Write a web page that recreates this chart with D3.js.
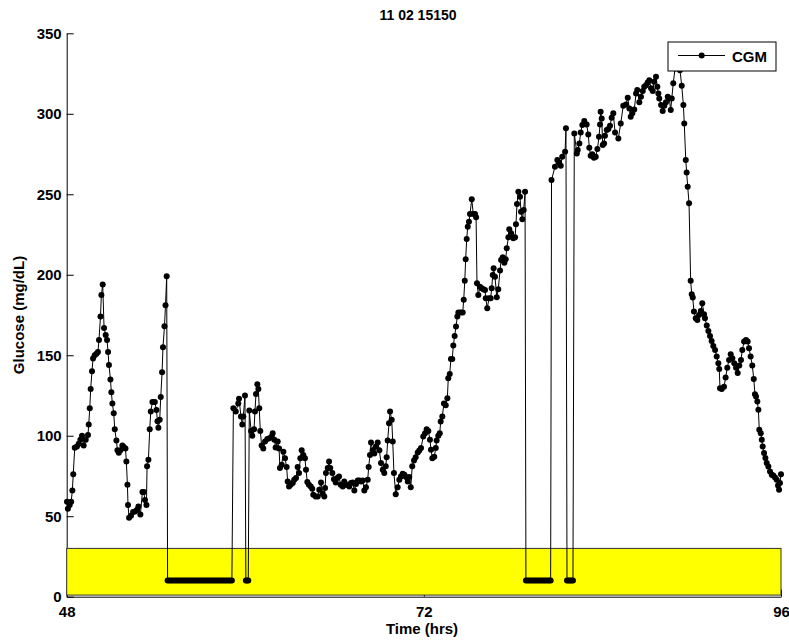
<!DOCTYPE html>
<html lang="en">
<head>
  <meta charset="utf-8" />
  <style>
    body { margin: 0; background: #fff; }
    text { font-family: "Liberation Sans", Arial, sans-serif; font-weight: bold; }
  </style>
</head>
<body>
<div id="container"></div>
<script src="https://cdn.jsdelivr.net/npm/d3@7"></script>
<script>

const title = '11 02 15150';
const xTicks = [48, 72, 96];
const yTicks = [0, 50, 100, 150, 200, 250, 300, 350];
const lowBand = [1, 30]; // yellow band, mg/dL

// CGM readings: [hour, mg/dL]; 10 = sensor gap marker
const cgm = [
  [48.02, 59], [48.08, 54.6], [48.2, 57], [48.3, 59], [48.38, 66], [48.44, 76], [48.54, 92.5], [48.69, 93.3],
  [48.81, 95], [48.92, 97.5], [49.03, 100], [49.14, 94], [49.28, 97.5], [49.43, 100.5], [49.48, 107], [49.55, 117],
  [49.61, 129], [49.7, 140], [49.77, 148], [49.88, 150], [50.0, 151], [50.1, 152], [50.17, 159.5], [50.27, 174],
  [50.33, 187.5], [50.42, 194], [50.51, 167], [50.62, 162.6], [50.71, 159.5], [50.78, 152], [50.84, 144], [50.94, 135],
  [51.0, 127], [51.07, 120], [51.16, 114], [51.23, 104], [51.34, 97], [51.41, 91], [51.5, 89.4], [51.61, 91],
  [51.74, 94], [51.83, 93], [51.95, 92], [52.01, 84], [52.08, 69.5], [52.12, 57], [52.19, 49], [52.32, 50.3],
  [52.46, 52.6], [52.59, 53], [52.73, 54], [52.82, 56], [52.95, 51], [53.09, 65], [53.18, 65], [53.26, 60],
  [53.36, 57], [53.4, 81], [53.49, 85], [53.58, 104], [53.65, 115], [53.76, 121], [53.92, 121], [54.03, 116],
  [54.1, 109], [54.16, 105], [54.25, 110], [54.32, 124], [54.41, 139.5], [54.47, 155], [54.57, 168], [54.64, 181],
  [54.72, 199],
  [54.78, 10], [54.9, 10], [55.02, 10], [55.14, 10], [55.26, 10], [55.38, 10], [55.5, 10], [55.62, 10],
  [55.74, 10], [55.86, 10], [55.98, 10], [56.1, 10], [56.22, 10], [56.34, 10], [56.46, 10], [56.58, 10],
  [56.7, 10], [56.82, 10], [56.94, 10], [57.06, 10], [57.18, 10], [57.3, 10], [57.42, 10], [57.54, 10],
  [57.66, 10], [57.78, 10], [57.9, 10], [58.02, 10], [58.14, 10], [58.26, 10], [58.38, 10], [58.5, 10],
  [58.62, 10], [58.74, 10], [58.86, 10], [58.98, 10], [59.1, 10],
  [59.2, 117], [59.36, 115], [59.53, 120], [59.58, 123], [59.71, 112], [59.8, 107], [59.87, 112], [59.98, 125],
  [60.04, 10], [60.12, 10], [60.2, 10],
  [60.27, 115.6], [60.39, 103], [60.47, 100], [60.59, 104], [60.65, 115], [60.72, 126], [60.81, 132], [60.88, 129],
  [60.94, 117], [61.01, 103], [61.1, 94], [61.21, 92], [61.33, 96.4], [61.48, 98], [61.61, 98.5], [61.78, 99.5],
  [61.84, 101.6], [61.95, 97.5], [62.04, 92.7], [62.18, 96.4], [62.27, 92], [62.33, 80], [62.45, 82], [62.56, 90],
  [62.67, 86], [62.78, 80.5], [62.85, 71.6], [62.94, 68.5], [63.05, 69.5], [63.19, 70.6], [63.29, 72.6], [63.41, 73.7],
  [63.52, 80.5], [63.61, 76.8], [63.7, 86], [63.79, 91], [63.9, 88], [64.01, 86], [64.08, 78.8], [64.17, 71.2],
  [64.28, 69.5], [64.4, 68.5], [64.5, 67], [64.57, 63.3], [64.73, 62.3], [64.87, 62.3], [64.97, 66.4], [65.09, 71],
  [65.2, 64], [65.31, 62.3], [65.36, 67.5], [65.42, 76.8], [65.54, 80], [65.63, 84], [65.71, 80], [65.85, 76.8],
  [65.96, 73], [66.08, 71], [66.18, 73.7], [66.3, 74.7], [66.41, 69.5], [66.55, 68.5], [66.65, 71.6], [66.77, 69.5],
  [66.88, 69.5], [66.99, 68.5], [67.1, 70.6], [67.22, 71], [67.33, 66], [67.44, 70], [67.56, 72.2], [67.66, 72.2],
  [67.78, 71.6], [67.89, 72.2], [68.0, 66], [68.11, 68], [68.23, 72.6], [68.29, 80.5], [68.38, 88], [68.45, 95.8],
  [68.56, 91], [68.67, 89], [68.78, 93.3], [68.9, 95.8], [69.01, 91], [69.12, 83], [69.24, 78.8], [69.34, 76.8],
  [69.44, 81], [69.5, 86.7], [69.57, 97], [69.66, 107.8], [69.73, 115], [69.84, 110], [69.91, 96.4], [69.99, 76.8],
  [70.11, 63.7], [70.24, 68], [70.35, 72.6], [70.46, 74.7], [70.58, 76.4], [70.69, 75.7], [70.8, 74.3], [70.92, 71.6],
  [71.02, 74.3], [71.12, 68], [71.22, 81], [71.34, 84.6], [71.45, 86.7], [71.59, 89.6], [71.69, 90.8], [71.81, 92.3],
  [71.96, 99.5], [72.08, 101.6], [72.19, 104], [72.3, 103], [72.41, 97.5], [72.48, 91.3], [72.57, 86], [72.7, 87],
  [72.8, 92.3], [72.86, 97], [72.97, 100], [73.07, 101.6], [73.13, 108.8], [73.24, 112], [73.35, 120], [73.47, 119],
  [73.58, 123.3], [73.64, 135.7], [73.74, 138.4], [73.82, 147.7], [73.91, 147.7], [73.98, 156], [74.07, 162], [74.16, 167.8],
  [74.25, 174], [74.32, 176.5], [74.48, 176.5], [74.61, 176.5], [74.68, 184.4], [74.75, 196.3], [74.81, 209.6], [74.88, 222.2],
  [74.95, 229.9], [75.03, 233], [75.1, 237.7], [75.22, 246.9], [75.32, 237.7], [75.44, 237.7], [75.51, 235.7], [75.57, 194.7],
  [75.66, 187.5], [75.77, 192.6], [75.89, 191.6], [76.0, 191], [76.11, 190.6], [76.16, 185.4], [76.26, 179.2], [76.38, 185.4],
  [76.49, 185.4], [76.56, 191.6], [76.63, 199.9], [76.69, 204], [76.78, 198.8], [76.9, 186], [77.0, 191], [77.12, 202.6],
  [77.19, 209.2], [77.3, 210.9], [77.41, 207.5], [77.5, 209.6], [77.57, 216.5], [77.68, 223.3], [77.74, 228.3], [77.86, 225.8],
  [78.01, 222.7], [78.13, 223.3], [78.19, 231.4], [78.26, 244], [78.35, 251.6], [78.46, 248.5], [78.53, 239.2], [78.62, 234.5],
  [78.71, 240.2], [78.8, 251.6],
  [78.86, 10], [78.98, 10], [79.1, 10], [79.22, 10], [79.34, 10], [79.46, 10], [79.58, 10], [79.7, 10],
  [79.82, 10], [79.94, 10], [80.06, 10], [80.18, 10], [80.3, 10], [80.42, 10], [80.52, 10],
  [80.58, 258.8], [80.81, 267.1], [80.97, 271.3], [81.08, 269.8], [81.2, 267.7], [81.3, 273.3], [81.49, 276.4], [81.55, 291],
  [81.62, 10], [81.72, 10], [81.82, 10], [81.92, 10], [82.02, 10],
  [82.11, 287.8], [82.28, 275.4], [82.34, 277.5], [82.45, 281.6], [82.54, 288.4], [82.65, 293], [82.78, 295.5], [82.94, 293.4],
  [83.05, 287.2], [83.12, 278.9], [83.21, 273.9], [83.32, 274.8], [83.43, 272.7], [83.55, 273.3], [83.66, 278.1], [83.77, 285.7],
  [83.84, 293.4], [83.88, 301.2], [83.95, 297.1], [84.02, 280.6], [84.11, 281.6], [84.17, 286.3], [84.29, 289.9], [84.4, 290.5],
  [84.51, 292.6], [84.62, 297.5], [84.73, 300.3], [84.85, 288.4], [85.07, 284.7], [85.23, 294], [85.4, 305], [85.58, 305.8],
  [85.7, 309.9], [85.81, 303.3], [85.9, 298.1], [86.01, 300.3], [86.14, 302.7], [86.26, 312.6], [86.34, 314.7], [86.48, 307.1],
  [86.59, 310.6], [86.71, 314.1], [86.81, 316.8], [86.93, 317.8], [87.04, 319.5], [87.15, 320.9], [87.27, 315.8], [87.38, 314.1],
  [87.47, 319.9], [87.6, 323], [87.69, 316.8], [87.76, 312.6], [87.82, 309.5], [87.94, 305.4], [88.05, 301.7], [88.16, 305],
  [88.27, 307.1], [88.39, 310.6], [88.49, 309.5], [88.59, 302.3], [88.66, 309.5], [88.76, 318.9], [88.88, 328.2], [89.0, 329],
  [89.21, 327.1], [89.33, 317.4], [89.44, 305.4], [89.5, 294], [89.6, 271.3], [89.66, 263.6], [89.73, 254.7], [89.82, 244.4],
  [89.93, 196.2], [90.0, 187.9], [90.07, 185.8], [90.15, 177.1], [90.27, 173], [90.38, 171.9], [90.49, 175], [90.61, 177.5],
  [90.71, 182.3], [90.83, 175.5], [90.89, 173], [91.01, 168.4], [91.12, 165.1], [91.23, 162], [91.34, 158.9], [91.45, 155.8],
  [91.57, 153.3], [91.68, 149.2], [91.79, 145.1], [91.85, 141.5], [91.9, 129.5], [92.02, 129.1], [92.17, 130.5], [92.28, 136.1],
  [92.39, 142.3], [92.51, 147.1], [92.62, 150.6], [92.73, 148.2], [92.86, 145.1], [92.98, 142.3], [93.09, 138.9], [93.2, 143.6],
  [93.31, 147.1], [93.4, 153.3], [93.52, 158.5], [93.65, 159.5], [93.76, 158.5], [93.85, 154.4], [93.96, 149.2], [94.07, 143.6],
  [94.17, 135.3], [94.25, 125.8], [94.32, 124.3], [94.41, 121.2], [94.48, 116.1], [94.54, 103.7], [94.64, 101.6], [94.71, 97.5],
  [94.77, 93.3], [94.86, 89.2], [94.95, 86.1], [95.04, 83], [95.15, 80.9], [95.26, 77.8], [95.38, 75.7], [95.48, 75.3],
  [95.6, 74.1], [95.71, 72.6], [95.8, 69.1], [95.87, 66.4], [95.93, 70.6], [96.0, 76]
];

const margin = { top: 33.3, right: 8, bottom: 44.3, left: 66.7 };
const W = 789, H = 641;
const width = W - margin.left - margin.right;
const height = H - margin.top - margin.bottom;

const svg = d3.select('#container')
  .append('svg')
  .attr('width', W)
  .attr('height', H);

const g = svg.append('g')
  .attr('transform', `translate(${margin.left}, ${margin.top})`);

const x = d3.scaleLinear().domain([48, 96]).range([0, width]);
const y = d3.scaleLinear().domain([0, 350]).range([height, 0]);

// axes, ticks pointing inward
g.append('g')
  .attr('class', 'y-axis')
  .call(d3.axisLeft(y).tickValues(yTicks).tickSizeInner(-7).tickSizeOuter(0).tickPadding(5))
  .call(a => a.selectAll('text').attr('font-size', 15).attr('fill', '#000'));

g.append('g')
  .attr('class', 'x-axis')
  .attr('transform', `translate(0, ${height})`)
  .call(d3.axisBottom(x).tickValues(xTicks).tickSizeInner(-7).tickSizeOuter(0).tickPadding(9.5))
  .call(a => a.selectAll('text').attr('font-size', 15).attr('fill', '#000'));

g.selectAll('.domain, .tick line').attr('stroke', '#000');

// yellow low band
g.append('rect')
  .attr('x', x(48))
  .attr('y', y(lowBand[1]))
  .attr('width', x(96) - x(48))
  .attr('height', y(lowBand[0]) - y(lowBand[1]))
  .attr('fill', '#ffff00')
  .attr('stroke', '#333')
  .attr('stroke-width', 1);

// CGM trace
const line = d3.line().x(d => x(d[0])).y(d => y(d[1]));

g.append('path')
  .datum(cgm)
  .attr('fill', 'none')
  .attr('stroke', '#000')
  .attr('stroke-width', 1)
  .attr('d', line);

g.selectAll('circle.pt')
  .data(cgm)
  .enter()
  .append('circle')
  .attr('class', 'pt')
  .attr('cx', d => x(d[0]))
  .attr('cy', d => y(d[1]))
  .attr('r', 3)
  .attr('fill', '#000');

// title and labels
svg.append('text')
  .attr('x', 418)
  .attr('y', 20)
  .attr('text-anchor', 'middle')
  .attr('font-size', 14)
  .text(title);

svg.append('text')
  .attr('x', 422)
  .attr('y', 634)
  .attr('text-anchor', 'middle')
  .attr('font-size', 15)
  .text('Time (hrs)');

svg.append('text')
  .attr('transform', 'translate(24, 315) rotate(-90)')
  .attr('text-anchor', 'middle')
  .attr('font-size', 15)
  .text('Glucose (mg/dL)');

// legend
const legend = svg.append('g');
legend.append('rect')
  .attr('x', 668).attr('y', 42)
  .attr('width', 108).attr('height', 29)
  .attr('fill', '#fff')
  .attr('stroke', '#000');
legend.append('line')
  .attr('x1', 678).attr('x2', 725)
  .attr('y1', 55.5).attr('y2', 55.5)
  .attr('stroke', '#000');
legend.append('circle')
  .attr('cx', 701.7).attr('cy', 55.5).attr('r', 3)
  .attr('fill', '#000');
legend.append('text')
  .attr('x', 732).attr('y', 61.5)
  .attr('font-size', 15)
  .text('CGM');

</script>
</body>
</html>
